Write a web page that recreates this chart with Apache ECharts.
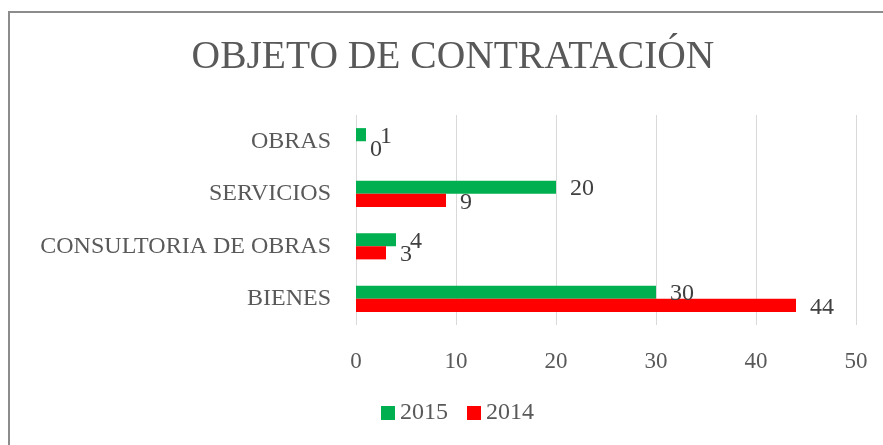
<!DOCTYPE html>
<html>
<head>
<meta charset="utf-8">
<script src="https://cdn.jsdelivr.net/npm/echarts@6/dist/echarts.min.js"></script>
<style>
  html, body { margin: 0; padding: 0; background: #fff; }
  #frame { position: absolute; left: 8px; top: 11px; width: 900px; height: 500px;
           border-left: 2px solid #8c8c8c; border-top: 2px solid #8c8c8c; }
  #chart { position: absolute; left: 0; top: 0; width: 883px; height: 445px; }
</style>
</head>
<body>
<div id="frame"></div>
<div id="chart"></div>
<script>
// datos
const categorias = ['OBRAS', 'SERVICIOS', 'CONSULTORIA DE OBRAS', 'BIENES']
const valores2015 = [1, 20, 4, 30]
const valores2014 = [0, 9, 3, 44]
const ticksX = [0, 10, 20, 30, 40, 50]

const fuente = 'Liberation Serif'
const chart = echarts.init(document.getElementById('chart'))

chart.setOption({
  backgroundColor: 'transparent',
  graphic: [{
    type: 'text',
    x: 453,
    y: 58,
    style: {
      text: 'OBJETO DE CONTRATACIÓN',
      font: '39.5px "Liberation Serif"',
      fill: '#595959',
      textAlign: 'center',
      textVerticalAlign: 'middle'
    }
  }],
  legend: {
    left: 381,
    top: 401,
    padding: 0,
    itemWidth: 14,
    itemHeight: 14,
    itemGap: 19,
    icon: 'rect',
    data: ['2015', '2014'],
    textStyle: { fontFamily: fuente, fontSize: 24, color: '#595959' }
  },
  grid: { left: 356, right: 27, top: 115, bottom: 120 },
  xAxis: {
    type: 'value',
    min: ticksX[0],
    max: ticksX[ticksX.length - 1],
    interval: 10,
    axisLine: { show: false },
    axisTick: { show: false },
    axisLabel: { fontFamily: fuente, fontSize: 23, color: '#595959', margin: 25 },
    splitLine: { lineStyle: { color: '#d9d9d9', width: 1 } }
  },
  yAxis: {
    type: 'category',
    inverse: true,
    data: categorias,
    axisLine: { show: false },
    axisTick: { show: false },
    axisLabel: { fontFamily: fuente, fontSize: 24, color: '#595959', margin: 25 }
  },
  series: [{
    name: '2015',
    type: 'bar',
    data: valores2015,
    barGap: '0%',
    barCategoryGap: '50%',
    itemStyle: { color: '#00B050' },
    label: {
      show: true, position: 'right', distance: 14, offset: [0, 2],
      fontFamily: fuente, fontSize: 24, color: '#404040'
    }
  }, {
    name: '2014',
    type: 'bar',
    data: valores2014,
    barGap: '0%',
    barCategoryGap: '50%',
    itemStyle: { color: '#FF0000' },
    label: {
      show: true, position: 'right', distance: 14, offset: [0, 2],
      fontFamily: fuente, fontSize: 24, color: '#404040'
    }
  }]
})
</script>
</body>
</html>
